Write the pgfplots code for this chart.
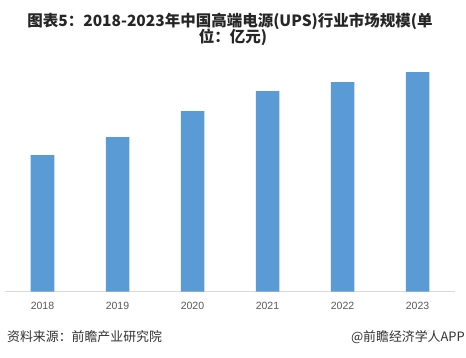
\documentclass[border=0pt]{standalone}
\usepackage{fontspec}
\setmainfont{Liberation Sans}
\newfontfamily\cjk{Noto Sans CJK SC}
\usepackage{pgfplots}
\pgfplotsset{compat=1.18}
\definecolor{barblue}{HTML}{5B9BD5}
\definecolor{labelgray}{HTML}{595959}
\definecolor{titlegray}{HTML}{262626}
\definecolor{footgray}{HTML}{333333}
\definecolor{axisgray}{HTML}{D9D9D9}
\begin{document}
\begin{tikzpicture}
\path[fill=white] (0pt,0pt) rectangle (466pt,357pt);
\begin{axis}[
  at={(5pt,65.3pt)}, anchor=south west,
  scale only axis, width=450pt, height=230pt,
  xmin=-0.5, xmax=5.5, ymin=0, ymax=230,
  axis x line=bottom, hide y axis,
  x axis line style={draw=axisgray, line width=0.8pt, -},
  xtick=data, xticklabels={2018,2019,2020,2021,2022,2023},
  major tick length=0pt, ytick=\empty,
  xticklabel style={font=\fontsize{10.5}{12}\selectfont, text=labelgray, yshift=-7pt},
  ybar, bar width=23.5pt,
  clip=false,
]
\addplot[fill=barblue, draw=none] coordinates {(0,136.7) (1,154.7) (2,180.7) (3,200.7) (4,209.7) (5,219.7)};
\end{axis}
\node[text=titlegray, font=\cjk\bfseries\fontsize{15.5}{17}\selectfont, anchor=center] at (230pt,335.3pt) {图表5：2018-2023年中国高端电源(UPS)行业市场规模(单};
\node[text=titlegray, font=\cjk\bfseries\fontsize{15.5}{17}\selectfont, anchor=center] at (233pt,319.3pt) {位：亿元)};
\node[text=footgray, font=\cjk\fontsize{12.9}{14}\selectfont, anchor=west, inner sep=0pt] at (7pt,20.3pt) {资料来源：前瞻产业研究院};
\node[text=footgray, font=\cjk\fontsize{12.9}{14}\selectfont, anchor=east, inner sep=0pt] at (465pt,20.3pt) {@前瞻经济学人APP};
\end{tikzpicture}
\end{document}
